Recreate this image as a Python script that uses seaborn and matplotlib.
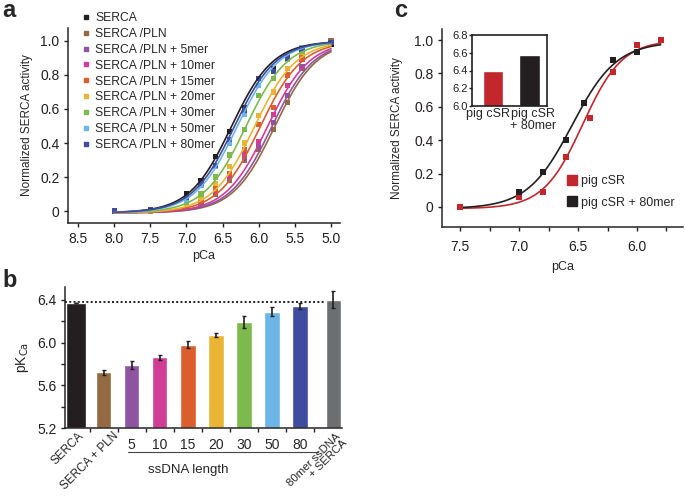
import numpy as np
import pandas as pd
import matplotlib
matplotlib.use('Agg')
import matplotlib.pyplot as plt
import matplotlib.transforms as mtransforms
from matplotlib.lines import Line2D
import seaborn as sns

sns.set_style('ticks')
plt.rcParams['font.family'] = ['Liberation Sans', 'DejaVu Sans']
plt.rcParams['axes.linewidth'] = 1.1
plt.rcParams['xtick.major.width'] = 1.0
plt.rcParams['ytick.major.width'] = 1.0
plt.rcParams['xtick.major.size'] = 3.2
plt.rcParams['ytick.major.size'] = 3.2
plt.rcParams['xtick.color'] = '#231F20'
plt.rcParams['ytick.color'] = '#231F20'

# ── DONNEES PANNEAU a ─────────────────────────────────────────────
series_a = ['SERCA', 'SERCA /PLN', 'SERCA /PLN + 5mer', 'SERCA /PLN + 10mer',
            'SERCA /PLN + 15mer', 'SERCA /PLN + 20mer', 'SERCA /PLN + 30mer',
            'SERCA /PLN + 50mer', 'SERCA /PLN + 80mer']
colors_a = ['#231F20', '#946A43', '#8E53A1', '#D13C97', '#DA5F2D',
            '#EAB535', '#7DBA4E', '#6DB5E6', '#3F4C9F']
pca_a = [8.0, 7.5, 7.0, 6.8, 6.6, 6.4, 6.2, 6.0, 5.8, 5.6, 5.4, 5.0]
act_serca = [0.00, 0.01, 0.10, 0.18, 0.32, 0.47, 0.61, 0.74, 0.84, 0.91, 0.95, 0.98]
act_pln   = [0.00, 0.00, 0.02, 0.04, 0.10, 0.18, 0.30, 0.36, 0.48, 0.64, 0.84, 1.00]
act_5     = [0.00, 0.00, 0.03, 0.05, 0.11, 0.19, 0.31, 0.38, 0.52, 0.68, 0.85, 0.99]
act_10    = [0.00, 0.00, 0.03, 0.06, 0.12, 0.21, 0.33, 0.41, 0.57, 0.74, 0.89, 0.99]
act_15    = [0.00, 0.00, 0.03, 0.06, 0.13, 0.22, 0.36, 0.51, 0.61, 0.80, 0.90, 0.99]
act_20    = [0.00, 0.00, 0.04, 0.08, 0.16, 0.26, 0.40, 0.56, 0.70, 0.84, 0.93, 0.99]
act_30    = [0.00, 0.00, 0.05, 0.10, 0.20, 0.33, 0.48, 0.68, 0.78, 0.89, 0.94, 0.99]
act_50    = [0.00, 0.01, 0.06, 0.15, 0.26, 0.40, 0.57, 0.74, 0.82, 0.90, 0.96, 0.99]
act_80    = [0.00, 0.01, 0.08, 0.16, 0.27, 0.42, 0.59, 0.78, 0.82, 0.90, 0.95, 0.99]
acts_a = [act_serca, act_pln, act_5, act_10, act_15, act_20, act_30, act_50, act_80]
# parametres des ajustements de Hill
fit_pk_a = [6.38, 5.78, 5.82, 5.88, 5.98, 6.06, 6.18, 6.30, 6.34]
fit_n_a = 1.5

# ── DONNEES PANNEAU b ─────────────────────────────────────────────
bar_names = ['SERCA', 'SERCA + PLN', '5', '10', '15', '20', '30', '50', '80',
             '80mer ssDNA\n+ SERCA']
bar_pk = [6.37, 5.72, 5.79, 5.86, 5.98, 6.07, 6.19, 6.29, 6.34, 6.40]
bar_err = [0.0, 0.02, 0.04, 0.02, 0.035, 0.015, 0.055, 0.04, 0.028, 0.08]
bar_colors = ['#231F20', '#946A43', '#8E53A1', '#D13C97', '#DA5F2D',
              '#EAB535', '#7DBA4E', '#6DB5E6', '#3F4C9F', '#6D6E70']
serca_ref = 6.375

# ── DONNEES PANNEAU c ─────────────────────────────────────────────
red_pca = [7.5, 7.0, 6.8, 6.6, 6.4, 6.2, 6.0, 5.8]
red_act = [0.00, 0.06, 0.09, 0.30, 0.53, 0.81, 0.97, 1.00]
blk_pca = [7.0, 6.8, 6.6, 6.45, 6.2, 6.0]
blk_act = [0.09, 0.21, 0.40, 0.62, 0.88, 0.93]
fit_c = {'pig cSR': (6.46, 2.6, 1.00), 'pig cSR + 80mer': (6.55, 2.3, 0.99)}
inset_names = ['pig cSR', 'pig cSR\n+ 80mer']
inset_pk = [6.40, 6.58]
RED, BLK = '#C1272D', '#231F20'

W, H = 685, 496


def box(l, t, r, b):
    return [l / W, 1 - b / H, (r - l) / W, (b - t) / H]


def hill(x, pk, n, top=1.0, bot=-0.01):
    return bot + (top - bot) / (1 + 10 ** (n * (x - pk)))


def style(ax):
    sns.despine(ax=ax)
    ax.tick_params(labelsize=10, pad=3)


fig = plt.figure(figsize=(W / 100, H / 100), dpi=100)

# ── a ────────────────────────────────────────────────────────────
ax = fig.add_axes(box(68, 28, 340, 223))
xs = np.linspace(8.0, 5.0, 200)
pts = pd.concat([pd.DataFrame({'pCa': pca_a, 'act': a, 's': s})
                 for s, a in zip(series_a, acts_a)])
fits = pd.concat([pd.DataFrame({'pCa': xs, 'act': hill(xs, pk, fit_n_a), 's': s})
                  for s, pk in zip(series_a, fit_pk_a)])
pal = dict(zip(series_a, colors_a))
sns.scatterplot(data=pts, x='pCa', y='act', hue='s', palette=pal, marker='s',
                s=14, linewidth=0, legend=False, ax=ax)
sns.lineplot(data=fits, x='pCa', y='act', hue='s', palette=pal, lw=1.2,
             legend=False, ax=ax, sort=False)
ax.set_xlim(8.64, 4.875)
ax.set_ylim(-0.07, 1.076)
ax.set_xticks(np.arange(8.5, 4.9, -0.5))
ax.set_yticks([0, 0.2, 0.4, 0.6, 0.8, 1.0])
ax.set_yticklabels(['0', '0.2', '0.4', '0.6', '0.8', '1.0'])
ax.set_xlabel('pCa', fontsize=9, labelpad=3)
ax.set_ylabel('Normalized SERCA activity', fontsize=8.5, labelpad=5)
style(ax)
handles = [Line2D([], [], marker='s', ls='none', color=c, markersize=3.5)
           for c in colors_a]
ax.legend(handles, series_a, loc='upper left', frameon=False, fontsize=8.7,
          bbox_to_anchor=(76 / W, 1 - 6 / H),
          bbox_transform=fig.transFigure, borderpad=0, handlelength=0.6,
          handletextpad=0.5, labelspacing=0.32)

# ── b ────────────────────────────────────────────────────────────
ax = fig.add_axes(box(65, 287, 342, 428))
pos = np.arange(len(bar_pk), dtype=float)
pos[-1] += 0.19
widths = [0.72] + [0.55] * (len(bar_pk) - 1)
ax.axhline(serca_ref, color='#231F20', ls=(0, (1, 1.2)), lw=1.4, zorder=0)
ax.bar(pos, np.array(bar_pk) - 5.2, bottom=5.2, width=widths, color=bar_colors,
       yerr=bar_err, error_kw=dict(ecolor='#231F20', elinewidth=1.2, capsize=1.5,
                                   capthick=1.0))
ax.set_xlim(-0.38, 9.5)
ax.set_ylim(5.2, 6.52)
ax.set_yticks(np.arange(5.2, 6.45, 0.2))
ax.set_yticklabels(['5.2', '', '5.6', '', '6.0', '', '6.4'])
ax.set_xticks(np.arange(0.5, 8.6, 1.0))
ax.set_xticklabels([])
ax.set_ylabel('pK$_{\\mathrm{Ca}}$', fontsize=10, labelpad=4)
style(ax)
tr = mtransforms.blended_transform_factory(ax.transData, ax.transAxes)
for p, name in zip(pos[2:9], bar_names[2:9]):
    ax.text(p, -0.12, name, transform=tr, ha='center', va='center', fontsize=10)
ax.plot([1.88, 8.65], [-0.17, -0.17], transform=tr, color='#444444', lw=0.8,
        clip_on=False)
ax.text(4.0, -0.30, 'ssDNA length', transform=tr, ha='center', va='center',
        fontsize=9.5)
for (px, py, fs), name in zip([(86, 430, 8.5), (121, 430, 8.5), (349, 431, 8.2)],
                              [bar_names[0], bar_names[1], bar_names[-1]]):
    fig.text(px / W, 1 - py / H, name, rotation=45, ha='right', va='top',
             fontsize=fs, linespacing=1.0, multialignment='right')

# ── c ────────────────────────────────────────────────────────────
ax = fig.add_axes(box(442, 29, 683, 227))
xc = np.linspace(7.5, 5.8, 200)
fit_df = pd.concat([pd.DataFrame({'pCa': xc, 'act': hill(xc, pk, n, top), 's': s})
                    for s, (pk, n, top) in fit_c.items()])
pal_c = {'pig cSR': RED, 'pig cSR + 80mer': BLK}
sns.lineplot(data=fit_df, x='pCa', y='act', hue='s', palette=pal_c, lw=1.2,
             legend=False, ax=ax, sort=False)
ax.scatter(red_pca, red_act, marker='s', s=14, color=RED, linewidths=0, zorder=3)
ax.scatter(blk_pca, blk_act, marker='s', s=14, color=BLK, linewidths=0, zorder=3)
ax.set_xlim(7.653, 5.61)
ax.set_ylim(-0.12, 1.066)
ax.set_xticks(np.arange(7.5, 5.7, -0.25))
ax.set_xticklabels(['7.5', '', '7.0', '', '6.5', '', '6.0', ''])
ax.set_yticks([0, 0.2, 0.4, 0.6, 0.8, 1.0])
ax.set_yticklabels(['0', '0.2', '0.4', '0.6', '0.8', '1.0'])
ax.set_xlabel('pCa', fontsize=9, labelpad=5)
ax.set_ylabel('Normalized SERCA activity', fontsize=8.5, labelpad=8)
style(ax)
ax.tick_params(axis='x', pad=6)
hc = [Line2D([], [], marker='s', ls='none', color=c, markersize=6.5)
      for c in (RED, BLK)]
ax.legend(hc, list(fit_c.keys()), loc='upper left', frameon=False, fontsize=9,
          bbox_to_anchor=(561 / W, 1 - 169 / H), bbox_transform=fig.transFigure,
          borderpad=0, handlelength=0.7, handletextpad=0.4, labelspacing=0.75)

# encart
axi = fig.add_axes(box(472, 35, 547, 106))
sns.barplot(x=inset_names, y=inset_pk, hue=inset_names,
            palette=[RED, BLK], width=0.56, legend=False, ax=axi, saturation=1)
axi.set_xlim(-0.57, 1.48)
axi.set_ylim(6.0, 6.8)
axi.set_yticks([6.0, 6.2, 6.4, 6.6, 6.8])
axi.set_yticklabels(['6.0', '6.2', '6.4', '6.6', '6.8'])
axi.tick_params(axis='y', labelsize=8, length=2, pad=1)
axi.tick_params(axis='x', length=0)
axi.set_xticklabels([])
axi.set_xlabel('')
tri = mtransforms.blended_transform_factory(fig.transFigure, axi.transAxes)
for px, name in zip([487.5, 533], inset_names):
    axi.text(px / W, -0.03, name, transform=tri, ha='center', va='top',
             fontsize=9, linespacing=0.95)
for sp in axi.spines.values():
    sp.set_linewidth(1.2)
    sp.set_color('#231F20')

# lettres des panneaux
for x, y, lab in [(2, 17, 'a'), (2, 287, 'b'), (394, 17, 'c')]:
    fig.text(x / W, 1 - y / H, lab, fontsize=17, fontweight='bold',
             va='baseline', ha='left')

plt.savefig('out.png', dpi=100)
